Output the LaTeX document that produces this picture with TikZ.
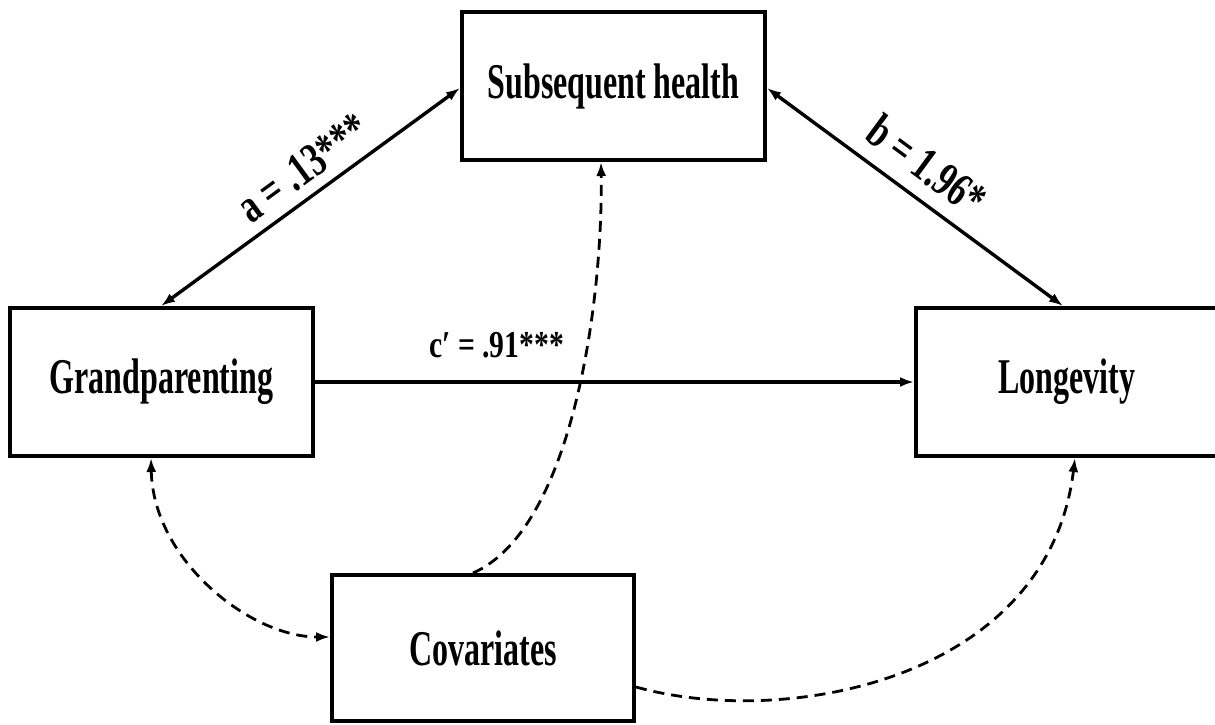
\documentclass[tikz,border=0pt]{standalone}
\usepackage{fontspec}
\setmainfont{Liberation Serif}
\usetikzlibrary{arrows.meta}
\newcommand{\boxtxt}[1]{\fontsize{50}{52}\selectfont\bfseries\scalebox{0.64}[1]{#1}}
\newcommand{\labtxt}[1]{\fontsize{48}{50}\selectfont\bfseries\scalebox{0.72}[1]{#1}}
\newcommand{\cltxt}[1]{\fontsize{38}{40}\selectfont\bfseries\scalebox{0.78}[1]{#1}}
\tikzset{
  tip/.tip={Latex[length=14pt,width=10pt]},
  varbox/.style={draw, line width=4pt, minimum width=303pt, minimum height=148pt, inner sep=0pt},
  path/.style={line width=3.4pt, -tip},
  dpath/.style={line width=2.8pt, dash pattern=on 11pt off 7pt, -tip},
  lab/.style={inner sep=0pt}
}
\begin{document}
\begin{tikzpicture}[x=1pt,y=-1pt]
\useasboundingbox (0,0) rectangle (1215,725);
\node[varbox] (sh) at (613.5,86) {\boxtxt{Subsequent health}};
\node[varbox] (gp) at (161.5,382) {\boxtxt{Grandparenting}};
\node[varbox, minimum width=302pt] (lg) at (1067,382) {\boxtxt{Longevity}};
\node[varbox, minimum width=302pt, minimum height=146pt] (cv) at (483,648) {\boxtxt{Covariates}};
% a path
\draw[path, tip-tip] ([xshift=153pt]gp.north west) -- node[lab, sloped, above=10pt, pos=0.53] {\labtxt{a~=~.13***}} ([yshift=-2pt]sh.west);
% b path
\draw[path, tip-tip] ([yshift=-2pt]sh.east) -- node[lab, sloped, above=14pt, pos=0.475] {\labtxt{b~=~1.96*}} ([xshift=149pt]lg.north west);
% c' path
\draw[path] (gp.east) -- node[lab, above=22pt, pos=0.303] {\cltxt{c′~=~.91***}} (lg.west);
% covariate paths
\draw[dpath, tip-tip] ([xshift=143pt]gp.south west) .. controls +(2,102) and +(-80,0) .. ([yshift=11pt]cv.west);
\draw[dpath] ([xshift=143pt]cv.north west) .. controls +(100,-44) and +(2,138) .. ([xshift=141pt]sh.south west);
\draw[dpath] ([yshift=-39pt]cv.east) .. controls +(150,42) and +(-27,222) .. ([xshift=161pt]lg.south west);
\end{tikzpicture}
\end{document}
